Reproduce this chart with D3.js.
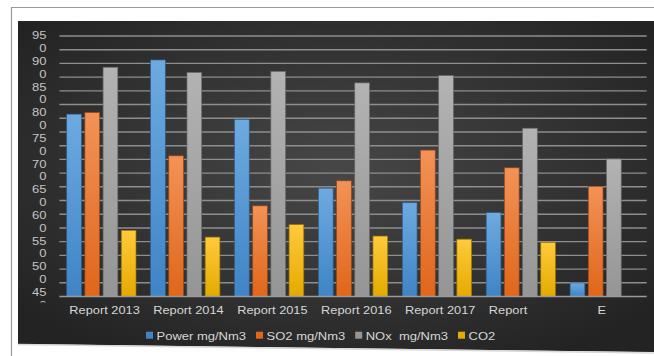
<!DOCTYPE html>
<html>
<head>
<meta charset="utf-8">
<script src="https://cdn.jsdelivr.net/npm/d3@7"></script>
<style>
  html, body { margin: 0; padding: 0; background: #ffffff; }
  svg { display: block; }
  text { font-family: "Liberation Sans", Arial, sans-serif; white-space: pre; }
</style>
</head>
<body>
<div id="chart"></div>
<script>
// ---- data ----
const categories = ["Report 2013", "Report 2014", "Report 2015", "Report 2016", "Report 2017", "Report", "E"];
const seriesNames = ["Power mg/Nm3", "SO2 mg/Nm3", "NOx  mg/Nm3", "CO2"];
const powerValues = [80.0, 90.4, 79.0, 65.8, 63.0, 61.1, 47.6];
const so2Values   = [80.3, 72.0, 62.4, 67.2, 73.1, 69.7, 66.1];
const noxValues   = [89.0, 88.0, 88.2, 86.0, 87.4, 77.3, 71.4];
const co2Values   = [57.7, 56.4, 58.8, 56.6, 56.0, 55.4, null];
const yTickLabels = ["95","0","90","0","85","0","80","0","75","0","70","0","65","0","60","0","55","0","50","0","45","0"];
const yDomain = [45, 95];
const gridCount = 19;

const seriesValues = [powerValues, so2Values, noxValues, co2Values];
const colors = [
  { top: "#6eaae0", bottom: "#3f84c6", stroke: "#2f5f8f" },
  { top: "#f39258", bottom: "#e0661a", stroke: "#9a4a16" },
  { top: "#b3b3b3", bottom: "#959595", stroke: "#6a6a6a" },
  { top: "#ffca3c", bottom: "#e4aa00", stroke: "#9a7400" }
];

const W = 654, H = 356;
const plot = { left: 59.4, right: 646.7, top: 36, bottom: 296.5 };

const svg = d3.select("#chart").append("svg").attr("width", W).attr("height", H);
const defs = svg.append("defs");

// background gradient
const bg = defs.append("radialGradient").attr("id", "bg")
  .attr("cx", "50%").attr("cy", "45%").attr("r", "65%");
bg.append("stop").attr("offset", "0%").attr("stop-color", "#474747");
bg.append("stop").attr("offset", "100%").attr("stop-color", "#232323");

colors.forEach((c, i) => {
  const g = defs.append("linearGradient").attr("id", "bar" + i)
    .attr("x1", 0).attr("y1", 0).attr("x2", 0).attr("y2", 1);
  g.append("stop").attr("offset", "0%").attr("stop-color", c.top);
  g.append("stop").attr("offset", "100%").attr("stop-color", c.bottom);
});

defs.append("clipPath").attr("id", "yclip").append("rect")
  .attr("x", 0).attr("y", 0).attr("width", 58).attr("height", 302.5);

// outer frame
svg.append("line").attr("x1", 11.5).attr("x2", 11.5).attr("y1", 7).attr("y2", H)
  .attr("stroke", "#9a9a9a").attr("stroke-width", 1.2);
svg.append("line").attr("x1", 11.5).attr("x2", W).attr("y1", 7.5).attr("y2", 7.5)
  .attr("stroke", "#9a9a9a").attr("stroke-width", 1.2);

// dark chart area
svg.append("polygon")
  .attr("points", [[18, 21], [W, 21], [W, 352], [18, 344]].map(p => p.join(",")).join(" "))
  .attr("fill", "url(#bg)");
svg.append("line").attr("x1", 18).attr("x2", W).attr("y1", 344.5).attr("y2", 353)
  .attr("stroke", "#d8d8d8").attr("stroke-width", 1.5);

// scales
const x0 = d3.scaleBand().domain(categories).range([plot.left, plot.right]).paddingInner(0).paddingOuter(0);
const x1 = d3.scaleBand().domain(d3.range(seriesNames.length))
  .range([7.3, x0.bandwidth() - 7.3]).paddingInner(0.19);
const y = d3.scaleLinear().domain(yDomain).range([plot.bottom, plot.top]);

// gridlines
const gridVals = d3.range(1, gridCount + 1).map(i => yDomain[0] + i * (yDomain[1] - yDomain[0]) / gridCount);
svg.append("g").selectAll("line").data(gridVals).join("line")
  .attr("x1", plot.left).attr("x2", plot.right)
  .attr("y1", d => y(d)).attr("y2", d => y(d))
  .attr("stroke", "#8e8e8e").attr("stroke-width", 1.4);

// y labels (misaligned, as in reference)
const yl = d3.scalePoint().domain(d3.range(yTickLabels.length)).range([35.7, 35.7 + 12.83 * (yTickLabels.length - 1)]);
svg.append("g").attr("clip-path", "url(#yclip)")
  .selectAll("text").data(yTickLabels).join("text")
  .attr("transform", (d, i) => `translate(46.5,${yl(i) + 3.6}) scale(1.3,1)`)
  .attr("text-anchor", "end")
  .attr("font-size", "10px")
  .attr("fill", "#c4c4c4")
  .text(d => d);

// bars
const groups = svg.append("g").selectAll("g").data(categories).join("g")
  .attr("transform", d => `translate(${x0(d)},0)`);
groups.selectAll("rect")
  .data((d, ci) => seriesValues.map((vals, si) => ({ si, v: vals[ci] })).filter(o => o.v != null))
  .join("rect")
  .attr("x", d => x1(d.si))
  .attr("width", x1.bandwidth())
  .attr("y", d => y(d.v))
  .attr("height", d => plot.bottom - y(d.v))
  .attr("fill", d => `url(#bar${d.si})`)
  .attr("stroke", d => colors[d.si].stroke)
  .attr("stroke-width", 0.7);

// x axis line
svg.append("line").attr("x1", plot.left).attr("x2", plot.right)
  .attr("y1", plot.bottom).attr("y2", plot.bottom)
  .attr("stroke", "#9a9a9a").attr("stroke-width", 1.5);

// x labels
svg.append("g").selectAll("text").data(categories).join("text")
  .attr("transform", d => {
    const c = x0(d) + x0.bandwidth() / 2;
    return d.startsWith("Report")
      ? `translate(${c - 32},314) scale(1.22,1)`
      : `translate(${c - 3},314) scale(1.22,1)`;
  })
  .attr("text-anchor", d => d.startsWith("Report") ? "start" : "middle")
  .attr("font-size", "10.5px")
  .attr("fill", "#d6d6d6")
  .text(d => d);

// legend
const legend = svg.append("g");
let lx = 146;
seriesNames.forEach((name, i) => {
  legend.append("rect").attr("x", lx).attr("y", 331.7).attr("width", 7).attr("height", 7)
    .attr("fill", colors[i].bottom);
  const t = legend.append("text")
    .attr("transform", `translate(${lx + 10.5},339.5) scale(1.13,1)`)
    .attr("font-size", "11.5px")
    .attr("fill", "#d6d6d6")
    .text(name);
  const w = t.node().getComputedTextLength() * 1.13;
  lx = lx + 10.5 + w + 10;
});
</script>
</body>
</html>
